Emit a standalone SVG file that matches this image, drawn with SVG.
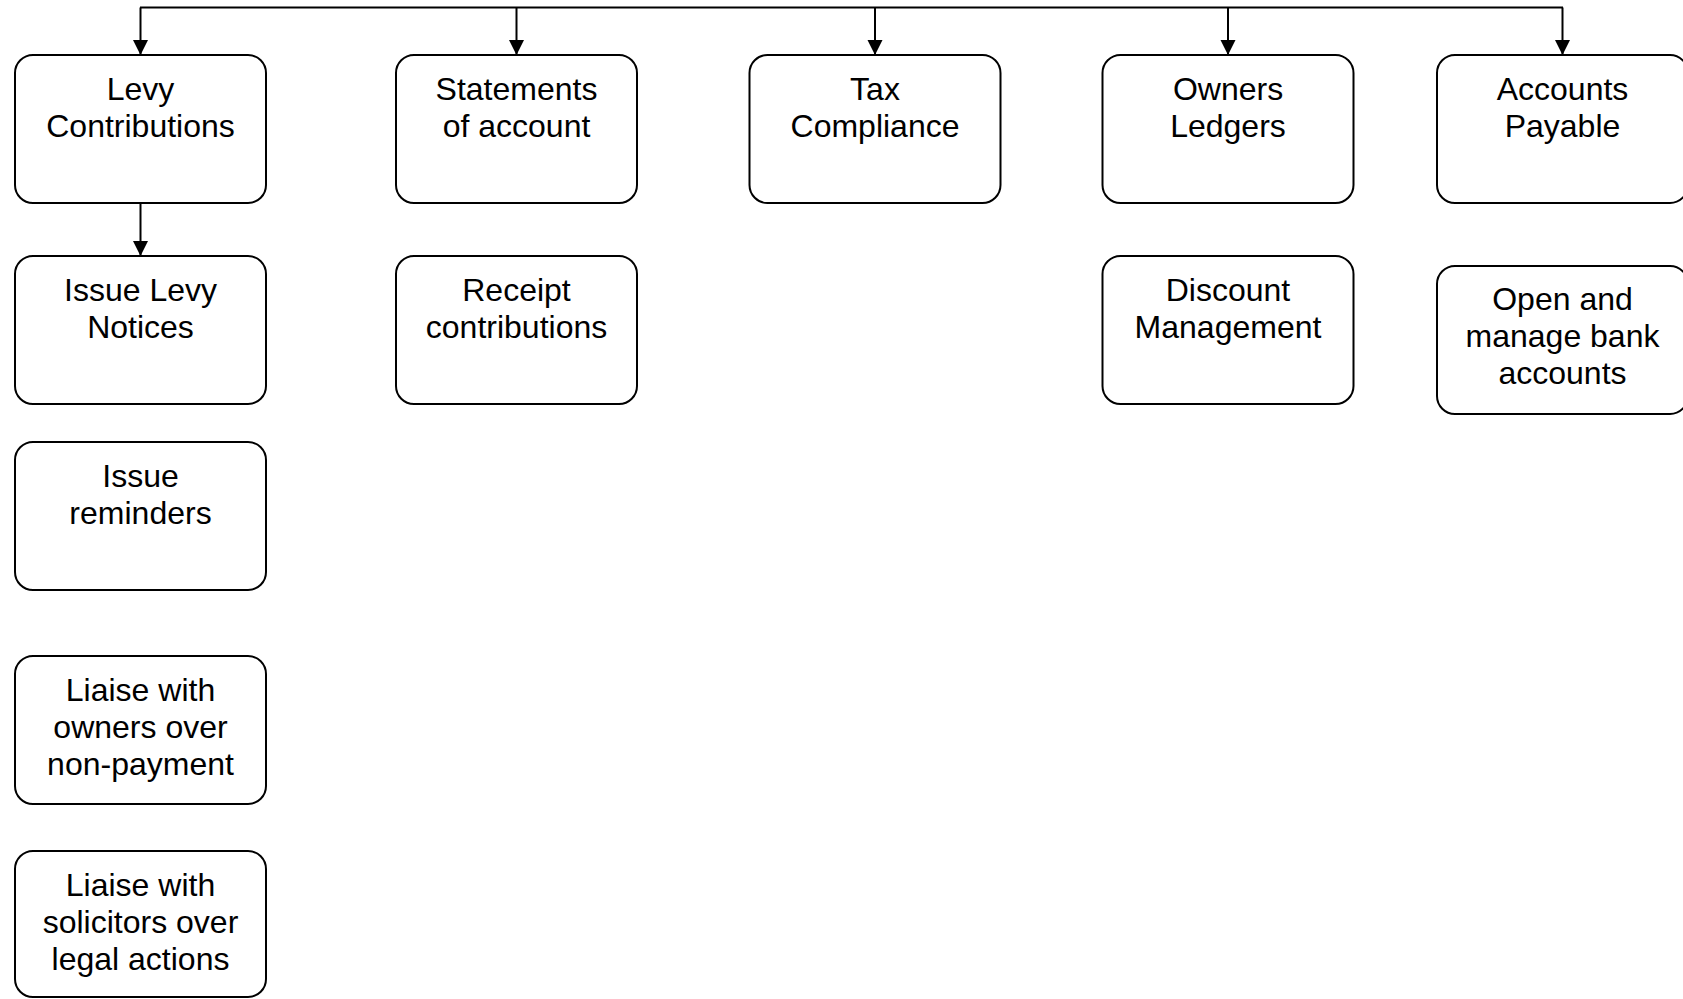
<svg xmlns="http://www.w3.org/2000/svg" width="1683" height="999" viewBox="0 0 1683 999">
<style>
.box{fill:#fff;stroke:#000;stroke-width:2}
.lbl{font-family:"Liberation Sans",Arial,sans-serif;font-size:32px;fill:#000;text-anchor:middle}
.con{fill:none;stroke:#000;stroke-width:2}
</style>
<defs>
<marker id="arr" markerUnits="userSpaceOnUse" markerWidth="16" markerHeight="16" refX="15" refY="7.5" orient="auto">
<path d="M0,0 L15,7.5 L0,15 z" fill="#000"/>
</marker>
</defs>
<rect width="1683" height="999" fill="#fff"/>
<g id="connectors">
<line class="con" x1="140" y1="7.5" x2="1563" y2="7.5"/>
<line class="con" x1="140.5" y1="7.5" x2="140.5" y2="55" marker-end="url(#arr)"/>
<line class="con" x1="516.5" y1="7.5" x2="516.5" y2="55" marker-end="url(#arr)"/>
<line class="con" x1="875" y1="7.5" x2="875" y2="55" marker-end="url(#arr)"/>
<line class="con" x1="1228" y1="7.5" x2="1228" y2="55" marker-end="url(#arr)"/>
<line class="con" x1="1562.5" y1="7.5" x2="1562.5" y2="55" marker-end="url(#arr)"/>
<line class="con" x1="140.5" y1="203" x2="140.5" y2="256" marker-end="url(#arr)"/>
</g>
<g id="levy">
<rect class="box" x="15" y="55" width="251" height="148" rx="18"/>
<text class="lbl" x="140.5" y="100">Levy</text>
<text class="lbl" x="140.5" y="137">Contributions</text>
</g>
<g id="statements">
<rect class="box" x="396" y="55" width="241" height="148" rx="18"/>
<text class="lbl" x="516.5" y="100">Statements</text>
<text class="lbl" x="516.5" y="137">of account</text>
</g>
<g id="tax">
<rect class="box" x="749.5" y="55" width="251" height="148" rx="18"/>
<text class="lbl" x="875" y="100">Tax</text>
<text class="lbl" x="875" y="137">Compliance</text>
</g>
<g id="owners">
<rect class="box" x="1102.5" y="55" width="251" height="148" rx="18"/>
<text class="lbl" x="1228" y="100">Owners</text>
<text class="lbl" x="1228" y="137">Ledgers</text>
</g>
<g id="payable">
<rect class="box" x="1437" y="55" width="251" height="148" rx="18"/>
<text class="lbl" x="1562.5" y="100">Accounts</text>
<text class="lbl" x="1562.5" y="137">Payable</text>
</g>
<g id="issue-levy">
<rect class="box" x="15" y="256" width="251" height="148" rx="18"/>
<text class="lbl" x="140.5" y="301">Issue Levy</text>
<text class="lbl" x="140.5" y="338">Notices</text>
</g>
<g id="receipt">
<rect class="box" x="396" y="256" width="241" height="148" rx="18"/>
<text class="lbl" x="516.5" y="301">Receipt</text>
<text class="lbl" x="516.5" y="338">contributions</text>
</g>
<g id="discount">
<rect class="box" x="1102.5" y="256" width="251" height="148" rx="18"/>
<text class="lbl" x="1228" y="301">Discount</text>
<text class="lbl" x="1228" y="338">Management</text>
</g>
<g id="bank">
<rect class="box" x="1437" y="266" width="251" height="148" rx="18"/>
<text class="lbl" x="1562.5" y="310">Open and</text>
<text class="lbl" x="1562.5" y="347">manage bank</text>
<text class="lbl" x="1562.5" y="384">accounts</text>
</g>
<g id="reminders">
<rect class="box" x="15" y="442" width="251" height="148" rx="18"/>
<text class="lbl" x="140.5" y="487">Issue</text>
<text class="lbl" x="140.5" y="524">reminders</text>
</g>
<g id="liaise-owners">
<rect class="box" x="15" y="656" width="251" height="148" rx="18"/>
<text class="lbl" x="140.5" y="701">Liaise with</text>
<text class="lbl" x="140.5" y="738">owners over</text>
<text class="lbl" x="140.5" y="775">non-payment</text>
</g>
<g id="liaise-solicitors">
<rect class="box" x="15" y="851" width="251" height="146" rx="18"/>
<text class="lbl" x="140.5" y="896">Liaise with</text>
<text class="lbl" x="140.5" y="933">solicitors over</text>
<text class="lbl" x="140.5" y="970">legal actions</text>
</g>
</svg>
